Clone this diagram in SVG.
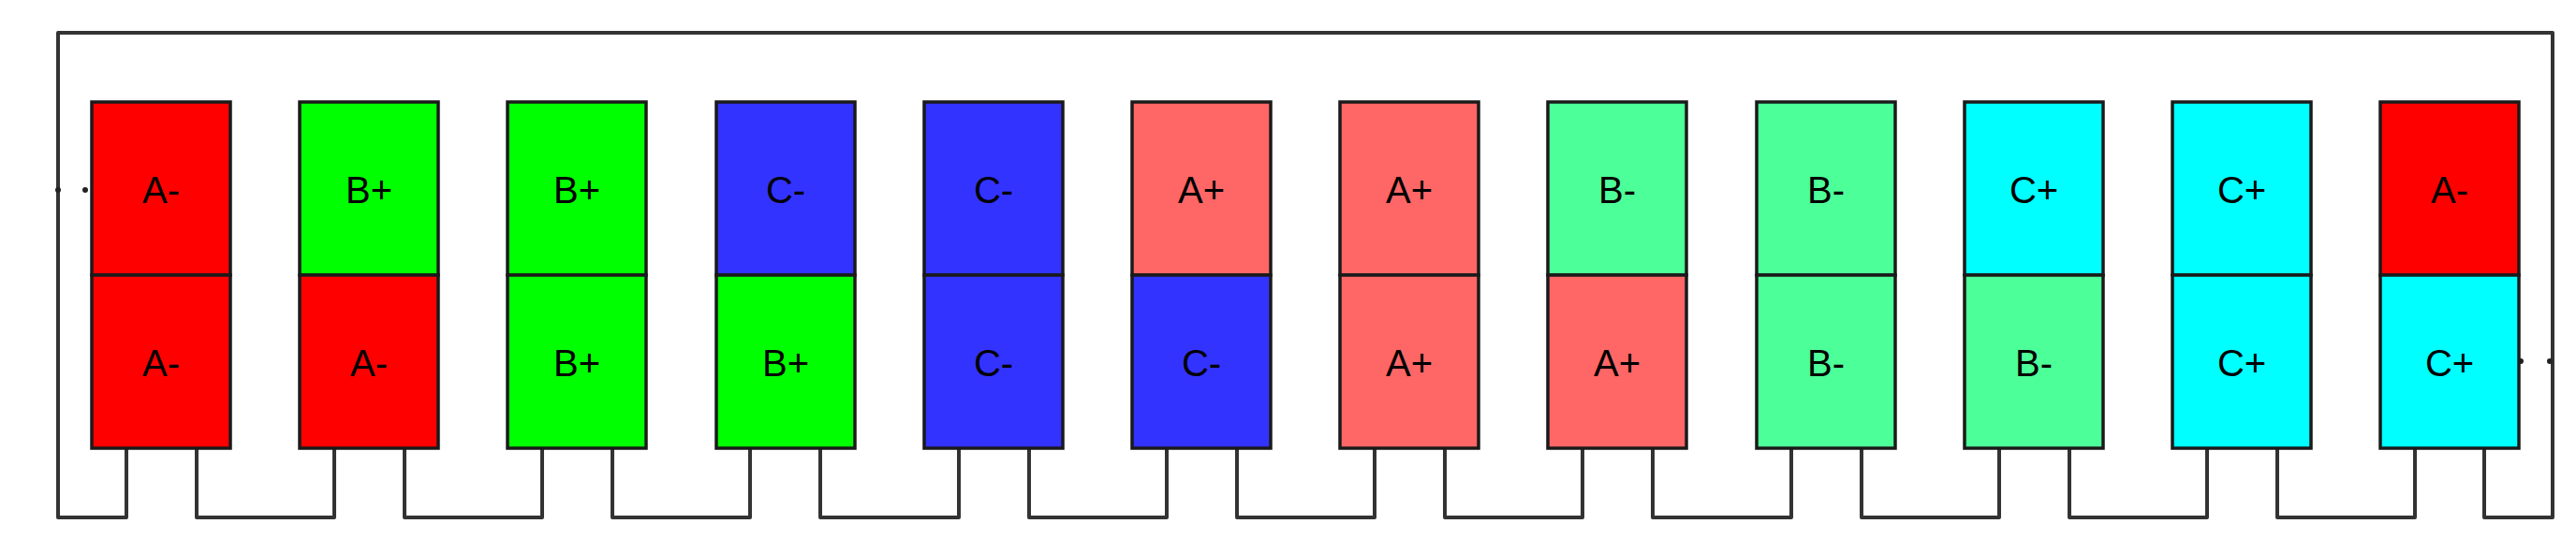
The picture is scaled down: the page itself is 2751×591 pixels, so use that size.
<svg xmlns="http://www.w3.org/2000/svg" width="2751" height="591" viewBox="0 0 2751 591">
<style>
.c{stroke:#1a1a1a;stroke-width:3.5}
.t{font-family:"Liberation Sans",Arial,sans-serif;font-size:40px;fill:#000;text-anchor:middle;dominant-baseline:central}
.w{fill:none;stroke:#333;stroke-width:4;stroke-linejoin:round}
.R{fill:#ff0000}.G{fill:#00ff00}.B{fill:#3333ff}.P{fill:#ff6666}.M{fill:#4dff99}.C{fill:#00ffff}
</style>
<rect width="2751" height="591" fill="#fff"/>
<g id="connectors">
<path class="w" d="M135,479 V553 H62 V35 H2726 V553 H2653 V479"/>
<path class="w" d="M210,479 V553 H357 V479"/>
<path class="w" d="M432,479 V553 H579 V479"/>
<path class="w" d="M654,479 V553 H801 V479"/>
<path class="w" d="M876,479 V553 H1024 V479"/>
<path class="w" d="M1099,479 V553 H1246 V479"/>
<path class="w" d="M1321,479 V553 H1468 V479"/>
<path class="w" d="M1543,479 V553 H1690 V479"/>
<path class="w" d="M1765,479 V553 H1913 V479"/>
<path class="w" d="M1988,479 V553 H2135 V479"/>
<path class="w" d="M2210,479 V553 H2357 V479"/>
<path class="w" d="M2432,479 V553 H2579 V479"/>
<circle cx="62" cy="203" r="3" fill="#222"/><circle cx="91" cy="203" r="3" fill="#222"/>
<circle cx="2692" cy="386" r="3" fill="#222"/><circle cx="2723" cy="386" r="3" fill="#222"/>
</g>
<g id="n1"><rect class="c R" x="98" y="109" width="148" height="185"/><rect class="c R" x="98" y="294" width="148" height="185"/><text class="t" x="172" y="203">A-</text><text class="t" x="172" y="388">A-</text></g>
<g id="n2"><rect class="c G" x="320" y="109" width="148" height="185"/><rect class="c R" x="320" y="294" width="148" height="185"/><text class="t" x="394" y="203">B+</text><text class="t" x="394" y="388">A-</text></g>
<g id="n3"><rect class="c G" x="542" y="109" width="148" height="185"/><rect class="c G" x="542" y="294" width="148" height="185"/><text class="t" x="616" y="203">B+</text><text class="t" x="616" y="388">B+</text></g>
<g id="n4"><rect class="c B" x="765" y="109" width="148" height="185"/><rect class="c G" x="765" y="294" width="148" height="185"/><text class="t" x="839" y="203">C-</text><text class="t" x="839" y="388">B+</text></g>
<g id="n5"><rect class="c B" x="987" y="109" width="148" height="185"/><rect class="c B" x="987" y="294" width="148" height="185"/><text class="t" x="1061" y="203">C-</text><text class="t" x="1061" y="388">C-</text></g>
<g id="n6"><rect class="c P" x="1209" y="109" width="148" height="185"/><rect class="c B" x="1209" y="294" width="148" height="185"/><text class="t" x="1283" y="203">A+</text><text class="t" x="1283" y="388">C-</text></g>
<g id="n7"><rect class="c P" x="1431" y="109" width="148" height="185"/><rect class="c P" x="1431" y="294" width="148" height="185"/><text class="t" x="1505" y="203">A+</text><text class="t" x="1505" y="388">A+</text></g>
<g id="n8"><rect class="c M" x="1653" y="109" width="148" height="185"/><rect class="c P" x="1653" y="294" width="148" height="185"/><text class="t" x="1727" y="203">B-</text><text class="t" x="1727" y="388">A+</text></g>
<g id="n9"><rect class="c M" x="1876" y="109" width="148" height="185"/><rect class="c M" x="1876" y="294" width="148" height="185"/><text class="t" x="1950" y="203">B-</text><text class="t" x="1950" y="388">B-</text></g>
<g id="n10"><rect class="c C" x="2098" y="109" width="148" height="185"/><rect class="c M" x="2098" y="294" width="148" height="185"/><text class="t" x="2172" y="203">C+</text><text class="t" x="2172" y="388">B-</text></g>
<g id="n11"><rect class="c C" x="2320" y="109" width="148" height="185"/><rect class="c C" x="2320" y="294" width="148" height="185"/><text class="t" x="2394" y="203">C+</text><text class="t" x="2394" y="388">C+</text></g>
<g id="n12"><rect class="c R" x="2542" y="109" width="148" height="185"/><rect class="c C" x="2542" y="294" width="148" height="185"/><text class="t" x="2616" y="203">A-</text><text class="t" x="2616" y="388">C+</text></g>
</svg>
